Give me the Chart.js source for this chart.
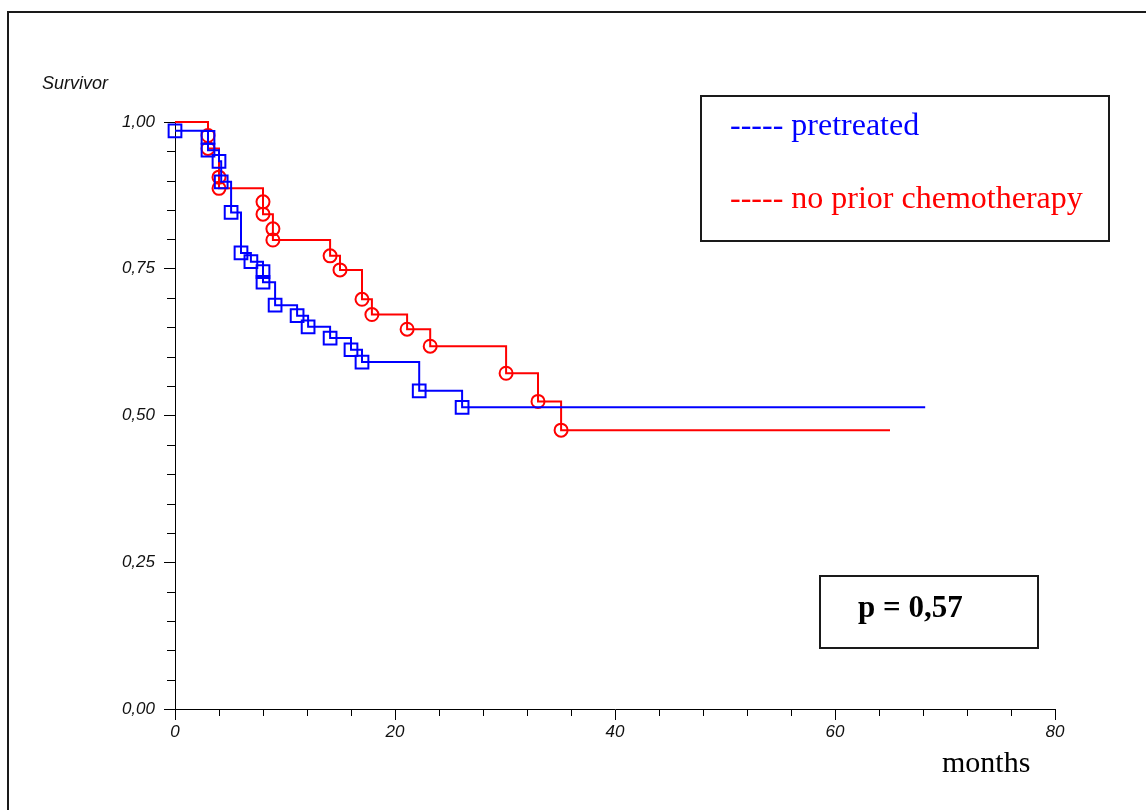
<!DOCTYPE html>
<html>
<head>
<meta charset="utf-8">
<title>Survival by prior chemotherapy</title>
<script src="https://cdn.jsdelivr.net/npm/chart.js@4.4.1/dist/chart.umd.min.js"></script>
<style>
  html, body { margin: 0; padding: 0; background: #fff; }
  #wrap { position: relative; width: 1146px; height: 810px; overflow: hidden; }
  #kmChart { position: absolute; left: 0; top: 0; }
  .frameTop { position: absolute; left: 8px; top: 11px; width: 1140px; height: 0; border-top: 2.5px solid #1a1a1a; }
  .frameLeft { position: absolute; left: 7px; top: 11px; width: 0; height: 805px; border-left: 2.5px solid #1a1a1a; }
  .lbl { position: absolute; white-space: nowrap; line-height: 1; }
  .sans { font-family: "Liberation Sans", Arial, sans-serif; font-style: italic; color: #111; }
  .serif { font-family: "Liberation Serif", "Times New Roman", serif; }
  .box { position: absolute; border: 2px solid #1a1a1a; box-sizing: border-box; }
</style>
</head>
<body>
<div id="wrap">
  <canvas id="kmChart" width="1146" height="810"></canvas>
  <div class="frameTop"></div>
  <div class="frameLeft"></div>
  <div class="lbl sans" style="left:42px; top:74px; font-size:18px;">Survivor</div>
  <div class="box" style="left:700px; top:95px; width:410px; height:147px;"></div>
  <div class="lbl serif" style="left:730px; top:108px; font-size:32px; color:#0000ff;">----- pretreated</div>
  <div class="lbl serif" style="left:730px; top:181px; font-size:32px; color:#ff0000;">----- no prior chemotherapy</div>
  <div class="box" style="left:819px; top:575px; width:220px; height:74px;"></div>
  <div class="lbl serif" style="left:858px; top:591px; font-size:31px; font-weight:bold; color:#000;">p = 0,57</div>
  <div class="lbl serif" style="left:942px; top:747px; font-size:30px; color:#000;">months</div>
</div>
<script>
  // Kaplan-Meier steps: time (months) and survival after each step
  const pretreatedMonths   = [0, 3.0, 3.0, 4.0, 4.2, 5.1, 6.0, 6.9, 8.0, 8.0, 9.1, 11.1, 12.1, 14.1, 16.0, 17.0, 22.2, 26.1, 68.2];
  const pretreatedSurvival = [0.985, 0.974, 0.952, 0.933, 0.898, 0.846, 0.777, 0.762, 0.745, 0.727, 0.688, 0.670, 0.651, 0.632, 0.612, 0.591, 0.542, 0.514, 0.514];

  const noPriorMonths   = [0, 3.0, 3.0, 4.0, 4.0, 8.0, 8.0, 8.9, 8.9, 14.1, 15.0, 17.0, 17.9, 21.1, 23.2, 30.1, 33.0, 35.1, 65.0];
  const noPriorSurvival = [1.0, 0.977, 0.955, 0.906, 0.887, 0.864, 0.843, 0.818, 0.799, 0.772, 0.748, 0.698, 0.672, 0.647, 0.618, 0.572, 0.524, 0.475, 0.475];

  // axis ticks
  const xMajorTicks = [0, 20, 40, 60, 80];
  const yMajorTicks = [0, 0.25, 0.5, 0.75, 1.0];
  const xMinorStep = 4;
  const yMinorStep = 0.05;

  const BLUE = "#0000ff";
  const RED = "#ff0000";

  function toPoints(xs, ys) {
    return xs.map((x, i) => ({ x, y: ys[i] }));
  }

  // plugin: short minor tick marks outside the plot area
  const minorTicks = {
    id: "minorTicks",
    afterDraw(chart) {
      const { ctx, scales } = chart;
      const xs = scales.x, ys = scales.y;
      const area = chart.chartArea;
      ctx.save();
      ctx.strokeStyle = "#000";
      ctx.lineWidth = 1;
      ctx.beginPath();
      for (let v = 0; v <= 80 + 1e-9; v += xMinorStep) {
        if (xMajorTicks.includes(v)) continue;
        const px = Math.round(xs.getPixelForValue(v)) + 0.5;
        ctx.moveTo(px, area.bottom);
        ctx.lineTo(px, area.bottom + 7);
      }
      for (let k = 0; k <= 20; k++) {
        const v = +(k * yMinorStep).toFixed(2);
        if (yMajorTicks.includes(v)) continue;
        const py = Math.round(ys.getPixelForValue(v)) + 0.5;
        ctx.moveTo(area.left - 8, py);
        ctx.lineTo(area.left, py);
      }
      ctx.stroke();
      ctx.restore();
    },
  };

  const tickFont = { family: "'Liberation Sans', Arial, sans-serif", size: 17, style: "italic" };

  new Chart(document.getElementById("kmChart").getContext("2d"), {
    type: "line",
    data: {
      datasets: [
        {
          label: "pretreated",
          data: toPoints(pretreatedMonths, pretreatedSurvival),
          borderColor: BLUE,
          borderWidth: 2,
          stepped: true,
          pointStyle: "rect",
          pointRadius: (c) => (c.dataIndex === pretreatedMonths.length - 1 ? 0 : 9),
          pointBorderColor: BLUE,
          pointBorderWidth: 2,
          pointBackgroundColor: "rgba(0,0,0,0)",
          clip: false,
        },
        {
          label: "no prior chemotherapy",
          data: toPoints(noPriorMonths, noPriorSurvival),
          borderColor: RED,
          borderWidth: 2,
          stepped: true,
          pointStyle: "circle",
          pointRadius: (c) => (c.dataIndex === 0 || c.dataIndex === noPriorMonths.length - 1 ? 0 : 6.5),
          pointBorderColor: RED,
          pointBorderWidth: 2,
          pointBackgroundColor: "rgba(0,0,0,0)",
          clip: false,
        },
      ],
    },
    options: {
      responsive: false,
      animation: false,
      layout: { padding: { left: 0, right: 91, top: 122, bottom: 0 } },
      plugins: { legend: { display: false }, tooltip: { enabled: false } },
      scales: {
        x: {
          type: "linear",
          min: 0,
          max: 80,
          afterBuildTicks: (s) => { s.ticks = xMajorTicks.map((v) => ({ value: v })); },
          afterFit: (s) => { s.height = 101; },
          ticks: { color: "#111", font: tickFont, padding: 2, maxRotation: 0 },
          grid: { display: true, drawOnChartArea: false, drawTicks: true, tickLength: 11, color: "#000", lineWidth: 1 },
          border: { display: true, color: "#000", width: 1 },
        },
        y: {
          type: "linear",
          min: 0,
          max: 1,
          afterBuildTicks: (s) => { s.ticks = yMajorTicks.map((v) => ({ value: v })); },
          afterFit: (s) => { s.width = 175; },
          ticks: {
            color: "#111",
            font: tickFont,
            padding: 9,
            callback: (v) => Number(v).toFixed(2).replace(".", ","),
          },
          grid: { display: true, drawOnChartArea: false, drawTicks: true, tickLength: 11, color: "#000", lineWidth: 1 },
          border: { display: true, color: "#000", width: 1 },
        },
      },
    },
    plugins: [minorTicks],
  });
</script>
</body>
</html>
